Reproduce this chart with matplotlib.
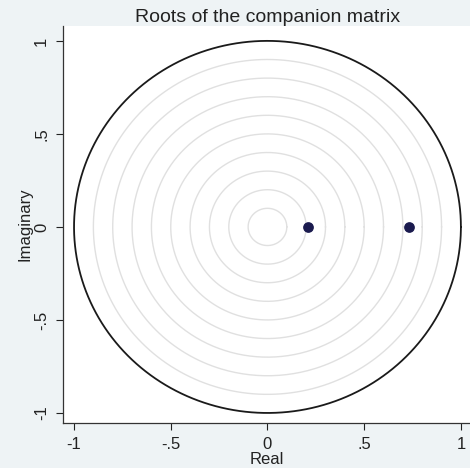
import numpy as np
import matplotlib
matplotlib.use("Agg")
import matplotlib.pyplot as plt

# eigenvalues of the companion matrix (real, imaginary)
root_real = [0.212, 0.734]
root_imag = [0.0, 0.0]

# faint background rings and the unit circle
ring_radii = [0.1, 0.2, 0.3, 0.4, 0.5, 0.6, 0.7, 0.8, 0.9]
unit_radius = 1.0

tick_vals = [-1, -0.5, 0, 0.5, 1]
tick_labels = ["-1", "-.5", "0", ".5", "1"]

plt.rcParams['font.family'] = ['Liberation Sans', 'DejaVu Sans']

fig = plt.figure(figsize=(4.70, 4.68), dpi=100)
fig.patch.set_facecolor('#eef3f5')
ax = fig.add_axes([63/470, 45/468, 1 - 63/470, (423 - 26)/468])
ax.set_facecolor('white')

theta = np.linspace(0, 2*np.pi, 400)
for r in ring_radii:
    ax.plot(r*np.cos(theta), r*np.sin(theta), color='#e0e0e0', lw=1.0, zorder=1)
ax.plot(unit_radius*np.cos(theta), unit_radius*np.sin(theta), color='#1a1a1a', lw=1.3, zorder=2)

ax.scatter(root_real, root_imag, s=45, color='#1a1a4e', zorder=3)

ax.set_xlim(-1.057, 1.047)
ax.set_ylim(-1.054, 1.08)

ax.set_xticks(tick_vals)
ax.set_xticklabels(tick_labels)
ax.set_yticks(tick_vals)
ax.set_yticklabels(tick_labels, rotation=90, va='center')
ax.tick_params(direction='out', length=5, width=0.8, labelsize=12, pad=5, colors='#222222')

for s in ['top', 'right']:
    ax.spines[s].set_visible(False)
for s in ['left', 'bottom']:
    ax.spines[s].set_color('#333333')
    ax.spines[s].set_linewidth(0.9)

ax.set_xlabel("Real", fontsize=12, labelpad=0, color='#222222')
ax.set_ylabel("Imaginary", fontsize=12, labelpad=1, color='#222222')
fig.text(268/470, 1 - 17/468, "Roots of the companion matrix", ha='center', va='center',
         fontsize=14, color='#222222')

plt.savefig("out.png", dpi=100, facecolor=fig.get_facecolor())
